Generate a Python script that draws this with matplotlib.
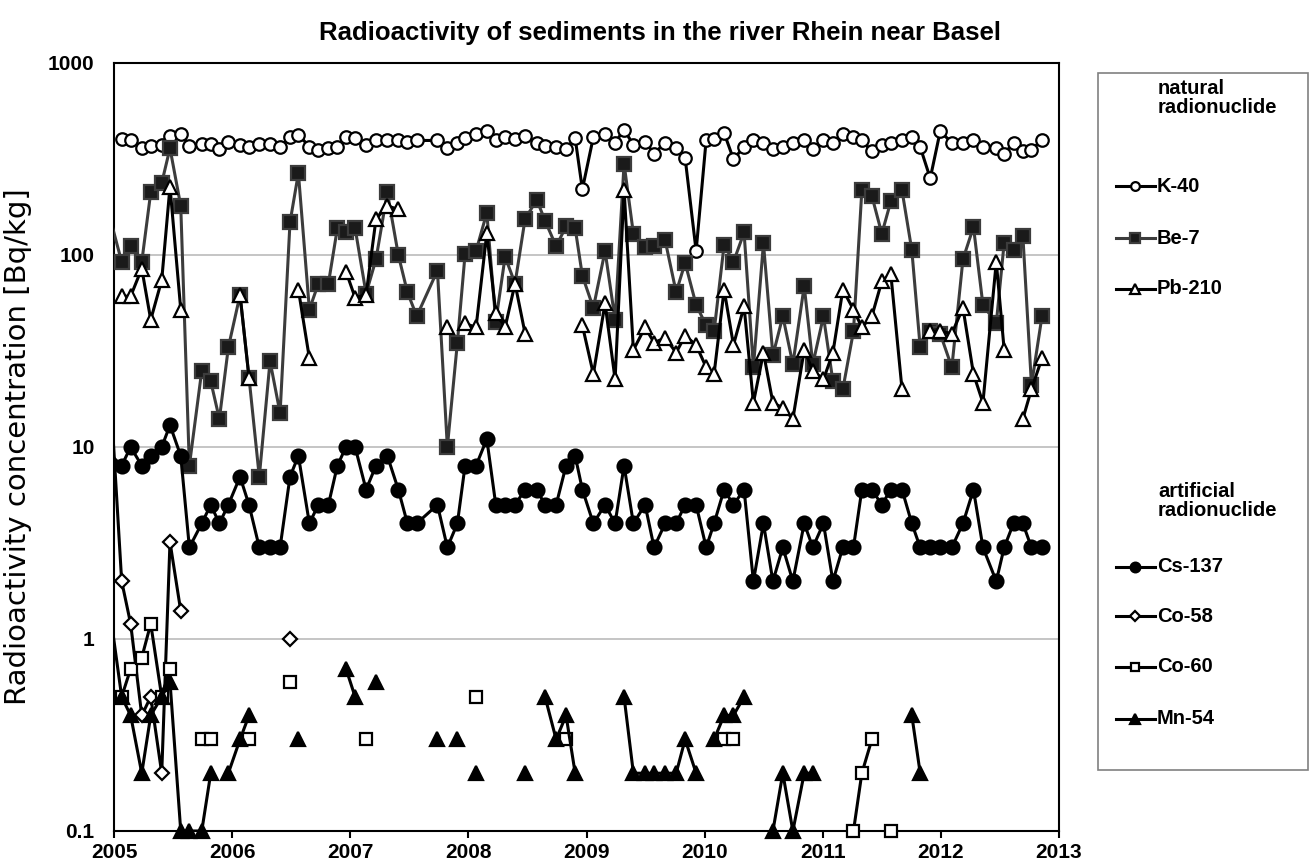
import numpy as np
import matplotlib.pyplot as plt
from matplotlib.lines import Line2D
from matplotlib.patches import Rectangle

plt.rcParams['font.family'] = ['Liberation Sans', 'DejaVu Sans']

# sampling dates (decimal year), first one is the last sample of 2004
sample_year = [2004.98,
               2005.065, 2005.141, 2005.235, 2005.311, 2005.404, 2005.474, 2005.565, 2005.638, 2005.743, 2005.819, 2005.892, 2005.968,
               2006.067, 2006.143, 2006.230, 2006.321, 2006.406, 2006.490, 2006.561, 2006.654, 2006.730, 2006.815, 2006.891, 2006.964,
               2007.041, 2007.134, 2007.218, 2007.314, 2007.407, 2007.484, 2007.563, 2007.738, 2007.822, 2007.907, 2007.972,
               2008.065, 2008.156, 2008.232, 2008.311, 2008.395, 2008.480, 2008.579, 2008.649, 2008.743, 2008.827, 2008.904, 2008.965,
               2009.058, 2009.157, 2009.242, 2009.318, 2009.397, 2009.496, 2009.572, 2009.666, 2009.759, 2009.835, 2009.928,
               2010.013, 2010.080, 2010.165, 2010.244, 2010.334, 2010.413, 2010.498, 2010.578, 2010.662, 2010.747, 2010.843, 2010.916,
               2011.006, 2011.086, 2011.170, 2011.260, 2011.331, 2011.416, 2011.500, 2011.576, 2011.671, 2011.754, 2011.825, 2011.910, 2011.994,
               2012.093, 2012.187, 2012.276, 2012.356, 2012.469, 2012.536, 2012.615, 2012.694, 2012.767, 2012.856]

N = None
k40 = [N,
       403, 398, 360, 371, 375, 418, 428, 371, 380, 380, 357, 390,
       375, 365, 380, 380, 365, 411, 423, 367, 353, 360, 365, 411,
       405, 375, 395, 395, 395, 390, 395, 395, 360, 383, 406,
       428, 440, 395, 411, 402, 418, 383, 371, 365, 357, 406, 220,
       411, 428, 385, 449, 375, 390, 337, 385, 360, 320, 105,
       398, 402, 432, 316, 365, 398, 385, 357, 365, 383, 395, 357,
       395, 383, 428, 410, 395, 346, 375, 383, 398, 414, 365, 251, 440,
       385, 385, 395, 365, 360, 337, 383, 346, 353, 398]

be7 = [145,
       92, 111, 92, 212, 237, 360, 180, 8, 25, 22, 14, 33,
       62, 23, 7, 28, 15, 148, 267, 52, 71, 71, 138, 132,
       138, 63, 95, 212, 100, 64, 48, 83, 10, 35, 101,
       105, 166, 45, 98, 71, 154, 194, 151, 111, 141, 138, 78,
       53, 105, 46, 299, 129, 110, 112, 119, 64, 91, 55,
       43, 40, 113, 92, 131, 26, 115, 30, 48, 27, 69, 27,
       48, 22, 20, 40, 217, 203, 129, 190, 217, 106, 33, 40, 39,
       26, 95, 140, 55, 44, 116, 106, 126, 21, 48]

pb210 = [N,
         61, 61, 85, 46, 74, 227, 52, N, N, N, N, N,
         62, 23, N, N, N, N, 66, 29, N, N, N, 82,
         60, 62, 154, 180, 173, N, N, N, 42, N, 44,
         42, 130, 50, 42, 71, 39, N, N, N, N, N, 43,
         24, 56, 22.5, 219, 32, 42, 35, 37, 31, 38, 34,
         26, 24, 66, 34, 54, 17, 31, 17, 16, 14, 32, 25,
         22.5, 31, 66, 52, 42, 48, 73, 80, 20, N, N, 40, 40,
         39, 53, 24, 17, 92, 32, N, 14, 20, 29]

cs137 = [9,
         8, 10, 8, 9, 10, 13, 9, 3, 4, 5, 4, 5,
         7, 5, 3, 3, 3, 7, 9, 4, 5, 5, 8, 10,
         10, 6, 8, 9, 6, 4, 4, 5, 3, 4, 8,
         8, 11, 5, 5, 5, 6, 6, 5, 5, 8, 9, 6,
         4, 5, 4, 8, 4, 5, 3, 4, 4, 5, 5,
         3, 4, 6, 5, 6, 2, 4, 2, 3, 2, 4, 3,
         4, 2, 3, 3, 6, 6, 5, 6, 6, 4, 3, 3, 3,
         3, 4, 6, 3, 2, 3, 4, 4, 3, 3]

co58 = [15,
        2.0, 1.2, 0.4, 0.5, 0.2, 3.2, 1.4, N, N, N, N, N,
        N, N, N, N, N, 1.0, N, N, N, N, N, N,
        N, N, N, N, N, N, N, N, N, N, N,
        N, N, N, N, N, N, N, N, N, N, N, N,
        N, N, N, N, N, N, N, N, N, N, N,
        N, N, N, N, N, N, N, N, N, N, N, N,
        N, N, N, N, N, N, N, N, N, N, N, N, N,
        N, N, N, N, N, N, N, N, N, N]

co60 = [1.2,
        0.5, 0.7, 0.8, 1.2, 0.5, 0.7, N, N, 0.3, 0.3, N, N,
        N, 0.3, N, N, N, 0.6, N, N, N, N, N, N,
        N, 0.3, N, N, N, N, N, N, N, N, N,
        0.5, N, N, N, N, N, N, N, N, 0.3, N, N,
        N, N, N, N, N, N, N, N, N, N, N,
        N, N, 0.3, 0.3, N, N, N, N, N, N, N, N,
        N, N, N, 0.1, 0.2, 0.3, N, 0.1, N, N, N, N, N,
        N, N, N, N, N, N, N, N, N, N]

mn54 = [N,
        0.5, 0.4, 0.2, 0.4, 0.5, 0.6, 0.1, 0.1, 0.1, 0.2, N, 0.2,
        0.3, 0.4, N, N, N, N, 0.3, N, N, N, N, 0.7,
        0.5, N, 0.6, N, N, N, N, 0.3, N, 0.3, N,
        0.2, N, N, N, N, 0.2, N, 0.5, 0.3, 0.4, 0.2, N,
        N, N, N, 0.5, 0.2, 0.2, 0.2, 0.2, 0.2, 0.3, 0.2,
        N, 0.3, 0.4, 0.4, 0.5, N, N, 0.1, 0.2, 0.1, 0.2, 0.2,
        N, N, N, N, N, N, N, N, N, 0.4, 0.2, N, N,
        N, N, N, N, N, N, N, N, N, N]

year_ticks = [2005, 2006, 2007, 2008, 2009, 2010, 2011, 2012, 2013]
y_ticks = [0.1, 1, 10, 100, 1000]
y_ticklabels = ['0.1', '1', '10', '100', '1000']

# name, values, line colour, marker, face, edge, marker size
natural = [('K-40', k40, 'black', 'o', 'white', 'black', 9),
           ('Be-7', be7, '#3c3c3c', 's', '#1a1a1a', '#3c3c3c', 9.5),
           ('Pb-210', pb210, 'black', '^', 'white', 'black', 10)]
artificial = [('Cs-137', cs137, 'black', 'o', 'black', 'black', 10),
              ('Co-58', co58, 'black', 'D', 'white', 'black', 7),
              ('Co-60', co60, 'black', 's', 'white', 'black', 9),
              ('Mn-54', mn54, 'black', '^', 'black', 'black', 10)]

fig = plt.figure(figsize=(13.16, 8.61), dpi=100)
ax = fig.add_axes([114/1316, 30/861, 945/1316, 768/861])

x = np.array(sample_year)
inside = x >= 2005
z = 3
for name, vals, lc, mk, fc, ec, ms in natural + artificial:
    y = np.array([np.nan if v is None else v for v in vals], dtype=float)
    ax.plot(x, y, color=lc, lw=2.2, zorder=z)
    ax.plot(x[inside], y[inside], ls='none', marker=mk, ms=ms, mfc=fc, mec=ec,
            mew=1.6, clip_on=False, zorder=z + 0.5)
    z += 1

ax.set_yscale('log')
ax.set_ylim(0.1, 1000)
ax.set_xlim(2005, 2013)
ax.set_yticks(y_ticks)
ax.set_yticklabels(y_ticklabels)
ax.minorticks_off()
ax.set_xticks(year_ticks)
ax.set_xticklabels([str(t) for t in year_ticks])
ax.tick_params(axis='x', direction='out', length=5, width=1.5, pad=4, labelsize=15)
ax.tick_params(axis='y', length=0, pad=14, labelsize=15)
for lab in ax.get_xticklabels() + ax.get_yticklabels():
    lab.set_fontweight('bold')
ax.grid(axis='y', color='#c0c0c0', lw=1.3)
ax.set_axisbelow(True)
for s in ax.spines.values():
    s.set_linewidth(1.5)
    s.set_color('black')

ax.set_ylabel('Radioactivity concentration [Bq/kg]', fontsize=21, family='DejaVu Sans')
ax.yaxis.set_label_coords(-0.087, 0.5)
fig.text(660/1316, 1 - 33/861, 'Radioactivity of sediments in the river Rhein near Basel',
         ha='center', va='center', fontsize=18.5, fontweight='bold')

# legend box on the right
fig.add_artist(Rectangle((1098/1316, 1 - 770/861), 210/1316, 697/861, transform=fig.transFigure,
                         fill=False, ec='#808080', lw=1.2))

def fy(py):
    return 1 - py/861

fig.text(1158/1316, fy(98), 'natural\nradionuclide', fontsize=14.5, fontweight='bold',
         va='center', ha='left', linespacing=0.95)
fig.text(1158/1316, fy(501), 'artificial\nradionuclide', fontsize=14.5, fontweight='bold',
         va='center', ha='left', linespacing=0.95)

rows = [186, 238, 289, 567, 616, 667, 719]
for (name, vals, lc, mk, fc, ec, ms), py in zip(natural + artificial, rows):
    fig.add_artist(Line2D([1116/1316, 1155/1316], [fy(py), fy(py)], transform=fig.transFigure,
                          color=lc, lw=2.2))
    fig.add_artist(Line2D([1135/1316], [fy(py)], transform=fig.transFigure, ls='none',
                          marker=mk, ms=ms*0.7, mfc=fc, mec=ec, mew=1.6))
    fig.text(1157/1316, fy(py), name, fontsize=14.5, fontweight='bold', va='center', ha='left')

fig.savefig('out.png', dpi=100)
